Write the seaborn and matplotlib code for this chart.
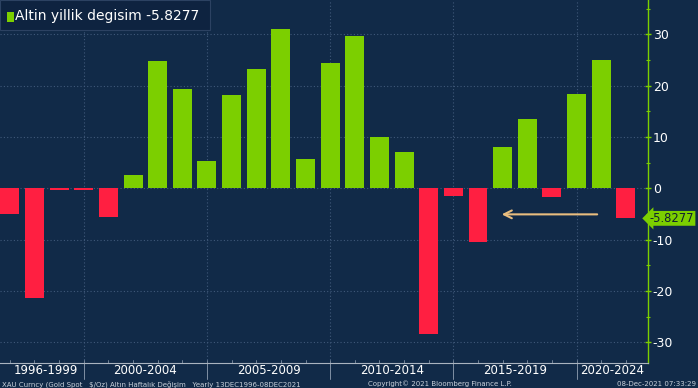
import numpy as np
import pandas as pd
import seaborn as sns
import matplotlib.pyplot as plt

# yearly gold change, %
years = list(range(1996, 2022))
values = [-5.0, -21.3, -0.3, -0.3, -5.5, 2.6, 24.8, 19.4, 5.4, 18.1, 23.2, 31.0, 5.7,
          24.4, 29.6, 10.1, 7.1, -28.3, -1.5, -10.4, 8.1, 13.5, -1.6, 18.3, 25.1, -5.8277]
period_labels = ['1996-1999', '2000-2004', '2005-2009', '2010-2014', '2015-2019', '2020-2024']
period_pos = [1.45, 5.5, 10.5, 15.5, 20.5, 24.45]
boundaries = [3, 8, 13, 18, 23]
last_value = values[-1]

BG = '#112a48'
GREEN = '#7ccf00'
RED = '#ff1f41'
GRID = '#40597a'

df = pd.DataFrame({'year': [str(y) for y in years], 'value': values})
df['sign'] = np.where(df['value'] >= 0, 'up', 'down')

sns.set_theme(style='dark')
plt.rcParams['font.family'] = ['DejaVu Sans']

fig = plt.figure(figsize=(6.98, 3.88), dpi=100, facecolor=BG)
ax = fig.add_axes([0, 25 / 388, 648 / 698, 363 / 388])
ax.set_facecolor(BG)

sns.barplot(data=df, x='year', y='value', hue='sign', palette={'up': GREEN, 'down': RED},
            dodge=False, width=0.77, legend=False, ax=ax, saturation=1, linewidth=0)

ax.set_xlim(-0.4, 25.9)
ax.set_ylim(-34.0, 36.7)

# grid
for yv in range(-30, 31, 10):
    ax.axhline(yv, color=GRID, lw=0.8, ls=(0, (1, 2)), zorder=0)
for b in boundaries:
    ax.axvline(b, color=GRID, lw=0.8, ls=(0, (1, 2)), zorder=0)

# right y axis
ax.yaxis.tick_right()
ax.set_yticks(range(-30, 31, 10))
ax.set_yticklabels([str(v) for v in range(-30, 31, 10)])
ax.set_yticks(range(-25, 36, 10), minor=True)
ax.tick_params(axis='y', which='major', colors=GREEN, labelcolor='white', length=5,
               width=1, labelsize=9, pad=1, direction='inout')
ax.tick_params(axis='y', which='minor', colors=GREEN, length=3, width=0.8, direction='inout')
ax.set_xticks([])
ax.set_xlabel('')
ax.set_ylabel('')

for side in ['top', 'left']:
    ax.spines[side].set_visible(False)
ax.spines['right'].set_visible(True)
ax.spines['right'].set_color(GREEN)
ax.spines['right'].set_linewidth(1)
ax.spines['bottom'].set_visible(True)
ax.spines['bottom'].set_color('#aab4c0')
ax.spines['bottom'].set_linewidth(0.8)

# period labels and separators below the axis
trans = ax.get_xaxis_transform()
for lab, p in zip(period_labels, period_pos):
    ax.text(p, -0.004, lab, transform=trans, ha='center', va='top', color='white',
            fontsize=8.5, clip_on=False)
for b in boundaries:
    ax.plot([b, b], [0, -0.045], transform=trans, color='#8090a4', lw=0.7, clip_on=False)
for i in range(len(years)):
    ax.plot([i, i], [0, 0.008], transform=trans, color='#8090a4', lw=0.6, clip_on=False)

# arrow
ax.annotate('', xy=(19.85, -5.05), xytext=(23.95, -5.05),
            arrowprops=dict(arrowstyle='->', color='#e9bd7f', lw=1.5, mutation_scale=14))

# last value tag
ax.text(1.003, last_value, '-5.8277', transform=ax.get_yaxis_transform(), ha='left',
        va='center', fontsize=8.3, color='#102030', clip_on=False,
        bbox=dict(boxstyle='larrow,pad=0.08', fc=GREEN, ec='none'))

# legend box
fig.patches.append(plt.Rectangle((0, 358 / 388), 210 / 698, 30 / 388, transform=fig.transFigure,
                                 fc='#0e2340', ec='#2c4262', lw=0.8))
fig.patches.append(plt.Rectangle((7 / 698, 366 / 388), 7 / 698, 10 / 388, transform=fig.transFigure,
                                 fc=GREEN, ec='none'))
fig.text(15 / 698, 372 / 388, 'Altin yillik degisim -5.8277', color='white', fontsize=10,
         va='center', ha='left')

# footer
fig.text(2 / 698, 4 / 388, 'XAU Curncy (Gold Spot   $/Oz) Altın Haftalık Değişim   Yearly 13DEC1996-08DEC2021',
         color='#c8d0da', fontsize=5, va='center', ha='left')
fig.text(440 / 698, 4 / 388, 'Copyright© 2021 Bloomberg Finance L.P.', color='#c8d0da',
         fontsize=5, va='center', ha='center')
fig.text(696 / 698, 4 / 388, '08-Dec-2021 07:33:29', color='#c8d0da', fontsize=5,
         va='center', ha='right')

fig.savefig('out.png', dpi=100, facecolor=BG)
